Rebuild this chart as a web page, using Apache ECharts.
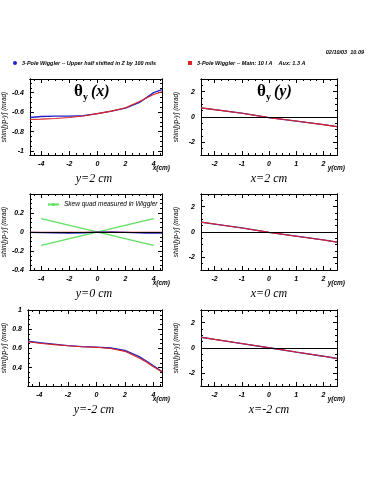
<!DOCTYPE html>
<html>
<head>
<meta charset="utf-8">
<script src="https://cdn.jsdelivr.net/npm/echarts@6/dist/echarts.min.js"></script>
<style>
html, body { margin: 0; padding: 0; background: #fff; }
#chart { width: 375px; height: 500px; }
</style>
</head>
<body>
<div id="chart"></div>
<script>
// horizontal scans (x in cm), one row per y position
var xScan = [-4.8, -4, -3, -2, -1, 0, 1, 2, 3, 3.5, 4, 4.6];
var blueYp2 = [-0.655, -0.645, -0.64, -0.64, -0.635, -0.615, -0.59, -0.56, -0.50, -0.45, -0.40, -0.37];
var redYp2 = [-0.675, -0.672, -0.665, -0.655, -0.64, -0.615, -0.59, -0.555, -0.49, -0.455, -0.42, -0.39];
var blueY0 = [-0.005, -0.006, -0.008, -0.012, -0.008, -0.002, 0.0, -0.004, -0.01, -0.012, -0.012, -0.012];
var redY0 = [-0.004, -0.004, -0.004, -0.004, -0.004, -0.003, -0.003, -0.004, -0.004, -0.004, -0.004, -0.004];
var blueYm2 = [0.675, 0.66, 0.645, 0.63, 0.62, 0.615, 0.605, 0.58, 0.515, 0.47, 0.42, 0.36];
var redYm2 = [0.67, 0.655, 0.64, 0.628, 0.618, 0.612, 0.6, 0.57, 0.5, 0.46, 0.41, 0.355];

// vertical scans (y in cm), one column per x position
var yScan = [-2.5, -2, -1, 0, 1, 2, 2.5];
var blueXp2 = [0.72, 0.58, 0.3, -0.05, -0.32, -0.6, -0.76];
var redXp2 = [0.72, 0.58, 0.3, -0.05, -0.32, -0.6, -0.76];
var blueX0 = [0.78, 0.63, 0.32, -0.03, -0.33, -0.63, -0.8];
var redX0 = [0.78, 0.63, 0.32, -0.03, -0.33, -0.63, -0.8];
var blueXm2 = [0.85, 0.68, 0.35, 0.02, -0.32, -0.65, -0.83];
var redXm2 = [0.85, 0.68, 0.35, 0.02, -0.32, -0.65, -0.83];

// skew quad lines
var skewX = [-4, 4];
var skewUp = [-0.14, 0.14];
var skewDown = [0.14, -0.14];

// tick labels
var xTicksLeft = [-4, -2, 0, 2, 4];
var xTicksRight = [-2, -1, 0, 1, 2];
var yTicksRow1 = [-1, -0.8, -0.6, -0.4];
var yTicksRow2 = [-0.4, -0.2, 0, 0.2];
var yTicksRow3 = [0.4, 0.6, 0.8, 1];
var yTicksRight = [-2, 0, 2];

var panelLabels = ['y=2 cm', 'x=2 cm', 'y=0 cm', 'x=0 cm', 'y=-2 cm', 'x=-2 cm'];

var blueName = '3-Pole Wiggler -- Upper half shifted in Z by 100 mils';
var redName = '3-Pole Wiggler -- Main: 10 I A    Aux: 1.3 A';
var skewName = 'Skew quad measured in Wiggler';
var yName = 'shim[yp-y] (mrad)';

var BLUE = '#2323c8';
var RED = '#dc2323';
var GREEN = '#5ee05e';
var LBL = { fontFamily: 'Liberation Sans', fontStyle: 'italic', fontWeight: 'bold', fontSize: 7, color: '#000' };

var colLeft = [26, 201];
var rowTop = [79, 194, 310];
var boxW = 136, boxH = 76;

var panels = [
	{ xs: xScan, blue: blueYp2, red: redYp2, xr: [-4.8, 4.6], yr: [-1.04, -0.26], xt: xTicksLeft, yt: yTicksRow1, xm: 0.5, ym: 0.05, zero: false },
	{ xs: yScan, blue: blueXp2, red: redXp2, xr: [-2.5, 2.5], yr: [-3, 3], xt: xTicksRight, yt: yTicksRight, xm: 0.25, ym: 0.5, zero: true },
	{ xs: xScan, blue: blueY0, red: redY0, xr: [-4.8, 4.6], yr: [-0.4, 0.4], xt: xTicksLeft, yt: yTicksRow2, xm: 0.5, ym: 0.05, zero: true, skew: true },
	{ xs: yScan, blue: blueX0, red: redX0, xr: [-2.5, 2.5], yr: [-3, 3], xt: xTicksRight, yt: yTicksRight, xm: 0.25, ym: 0.5, zero: true },
	{ xs: xScan, blue: blueYm2, red: redYm2, xr: [-4.8, 4.6], yr: [0.21, 1.0], xt: xTicksLeft, yt: yTicksRow3, xm: 0.5, ym: 0.05, zero: false },
	{ xs: yScan, blue: blueXm2, red: redXm2, xr: [-2.5, 2.5], yr: [-3, 3], xt: xTicksRight, yt: yTicksRight, xm: 0.25, ym: 0.5, zero: true }
];

function steps(min, max, step) {
	var out = [];
	var v = Math.ceil(min / step - 1e-9) * step;
	for (; v <= max + 1e-9; v += step) {
		out.push(Math.round(v * 10000) / 10000);
	}
	return out;
}

function zip(a, b) {
	return a.map(function(v, i) { return [v, b[i]]; });
}

// one axis = one side of the frame with one tick length
function frameAxis(gi, range, pos, ticks, len, labels, extra) {
	var ax = {
		type: 'value',
		gridIndex: gi,
		min: range[0],
		max: range[1],
		position: pos,
		axisLine: { show: true, onZero: false, lineStyle: { color: '#000', width: 1 } },
		axisTick: { show: true, inside: true, length: len, customValues: ticks, lineStyle: { color: '#000', width: 1 } },
		axisLabel: labels ? Object.assign({ show: true, customValues: labels, margin: 6 }, LBL) : { show: false },
		splitLine: { show: false }
	};
	return Object.assign(ax, extra || {});
}

var grids = [], xAxes = [], yAxes = [], series = [], graphics = [];

panels.forEach(function(p, gi) {
	var col = gi % 2, row = Math.floor(gi / 2);
	grids.push({ left: colLeft[col], top: rowTop[row], width: boxW, height: boxH });

	var xMinor = steps(p.xr[0], p.xr[1], p.xm);
	var yMinor = steps(p.yr[0], p.yr[1], p.ym);

	xAxes.push(frameAxis(gi, p.xr, 'bottom', p.xt, 4, p.xt));
	xAxes.push(frameAxis(gi, p.xr, 'bottom', xMinor, 2, null));
	xAxes.push(frameAxis(gi, p.xr, 'top', p.xt, 4, null));
	xAxes.push(frameAxis(gi, p.xr, 'top', xMinor, 2, null));

	yAxes.push(frameAxis(gi, p.yr, 'left', p.yt, 4, p.yt, {
		name: yName,
		nameLocation: 'middle',
		nameGap: col === 0 ? 20 : 21,
		nameTextStyle: { fontFamily: 'Liberation Sans', fontStyle: 'italic', fontSize: 6.5, color: '#000' }
	}));
	yAxes.push(frameAxis(gi, p.yr, 'left', yMinor, 2, null));
	yAxes.push(frameAxis(gi, p.yr, 'right', p.yt, 4, null));
	yAxes.push(frameAxis(gi, p.yr, 'right', yMinor, 2, null));

	var ai = gi * 4;
	if (p.skew) {
		series.push({ name: skewName, type: 'line', xAxisIndex: ai, yAxisIndex: ai, data: zip(skewX, skewUp), symbol: 'none', lineStyle: { color: GREEN, width: 1.2 }, itemStyle: { color: GREEN } });
		series.push({ name: skewName, type: 'line', xAxisIndex: ai, yAxisIndex: ai, data: zip(skewX, skewDown), symbol: 'none', lineStyle: { color: GREEN, width: 1.2 }, itemStyle: { color: GREEN } });
	}
	series.push({ name: blueName, type: 'line', xAxisIndex: ai, yAxisIndex: ai, data: zip(p.xs, p.blue), symbol: 'none', lineStyle: { color: BLUE, width: 1.3 }, itemStyle: { color: BLUE } });
	var red = { name: redName, type: 'line', xAxisIndex: ai, yAxisIndex: ai, data: zip(p.xs, p.red), symbol: 'none', lineStyle: { color: RED, width: 1.1 }, itemStyle: { color: RED } };
	if (p.zero) {
		red.markLine = { silent: true, symbol: ['none', 'none'], label: { show: false }, lineStyle: { color: '#000', type: 'solid', width: 1 }, data: [{ yAxis: 0 }] };
	}
	series.push(red);

	// scan position under each box
	graphics.push({ type: 'text', x: colLeft[col] + boxW / 2, y: rowTop[row] + boxH + 24,
		style: { text: panelLabels[gi], font: 'italic 12px "Liberation Serif"', fill: '#000', textAlign: 'center', textVerticalAlign: 'middle' } });
	// axis unit
	graphics.push({ type: 'text', x: colLeft[col] + boxW + 8, y: rowTop[row] + boxH + 13,
		style: { text: col === 0 ? 'x(cm)' : 'y(cm)', font: 'italic bold 6.5px "Liberation Sans"', fill: '#000', textAlign: 'right', textVerticalAlign: 'middle' } });
});

// theta titles in top row
function thetaTitle(x0, arg) {
	graphics.push({ type: 'text', x: x0, y: 92, style: { text: '\u03b8', font: 'bold 17px "Liberation Serif"', fill: '#000', textAlign: 'left', textVerticalAlign: 'middle' } });
	graphics.push({ type: 'text', x: x0 + 9, y: 97, style: { text: 'y', font: 'bold 10px "Liberation Serif"', fill: '#000', textAlign: 'left', textVerticalAlign: 'middle' } });
	graphics.push({ type: 'text', x: x0 + 17, y: 92, style: { text: '(' + arg + ')', font: 'italic bold 16px "Liberation Serif"', fill: '#000', textAlign: 'left', textVerticalAlign: 'middle' } });
}
thetaTitle(74, 'x');
thetaTitle(257, 'y');

graphics.push({ type: 'text', x: 364, y: 52, style: { text: '02/10/03  10.09', font: 'italic bold 5.5px "Liberation Sans"', fill: '#000', textAlign: 'right', textVerticalAlign: 'middle' } });

var legendText = { fontFamily: 'Liberation Sans', fontStyle: 'italic', fontWeight: 'bold', fontSize: 5.5, color: '#000' };

var chart = echarts.init(document.getElementById('chart'));

var option = {
	animation: false,
	backgroundColor: '#fff',
	grid: grids,
	xAxis: xAxes,
	yAxis: yAxes,
	legend: [
		{ left: 13, top: 60, itemWidth: 4, itemHeight: 4, padding: 0, data: [{ name: blueName, icon: 'circle' }], textStyle: legendText, selectedMode: false },
		{ left: 188, top: 60, itemWidth: 4, itemHeight: 4, padding: 0, data: [{ name: redName, icon: 'rect' }], textStyle: legendText, selectedMode: false },
		{ left: 47, top: 201, itemWidth: 11, itemHeight: 4, padding: 0, data: [skewName], selectedMode: false,
			textStyle: { fontFamily: 'Liberation Sans', fontStyle: 'italic', fontSize: 6.5, color: '#000' } }
	],
	graphic: graphics,
	series: series
};

chart.setOption(option);
</script>
</body>
</html>
